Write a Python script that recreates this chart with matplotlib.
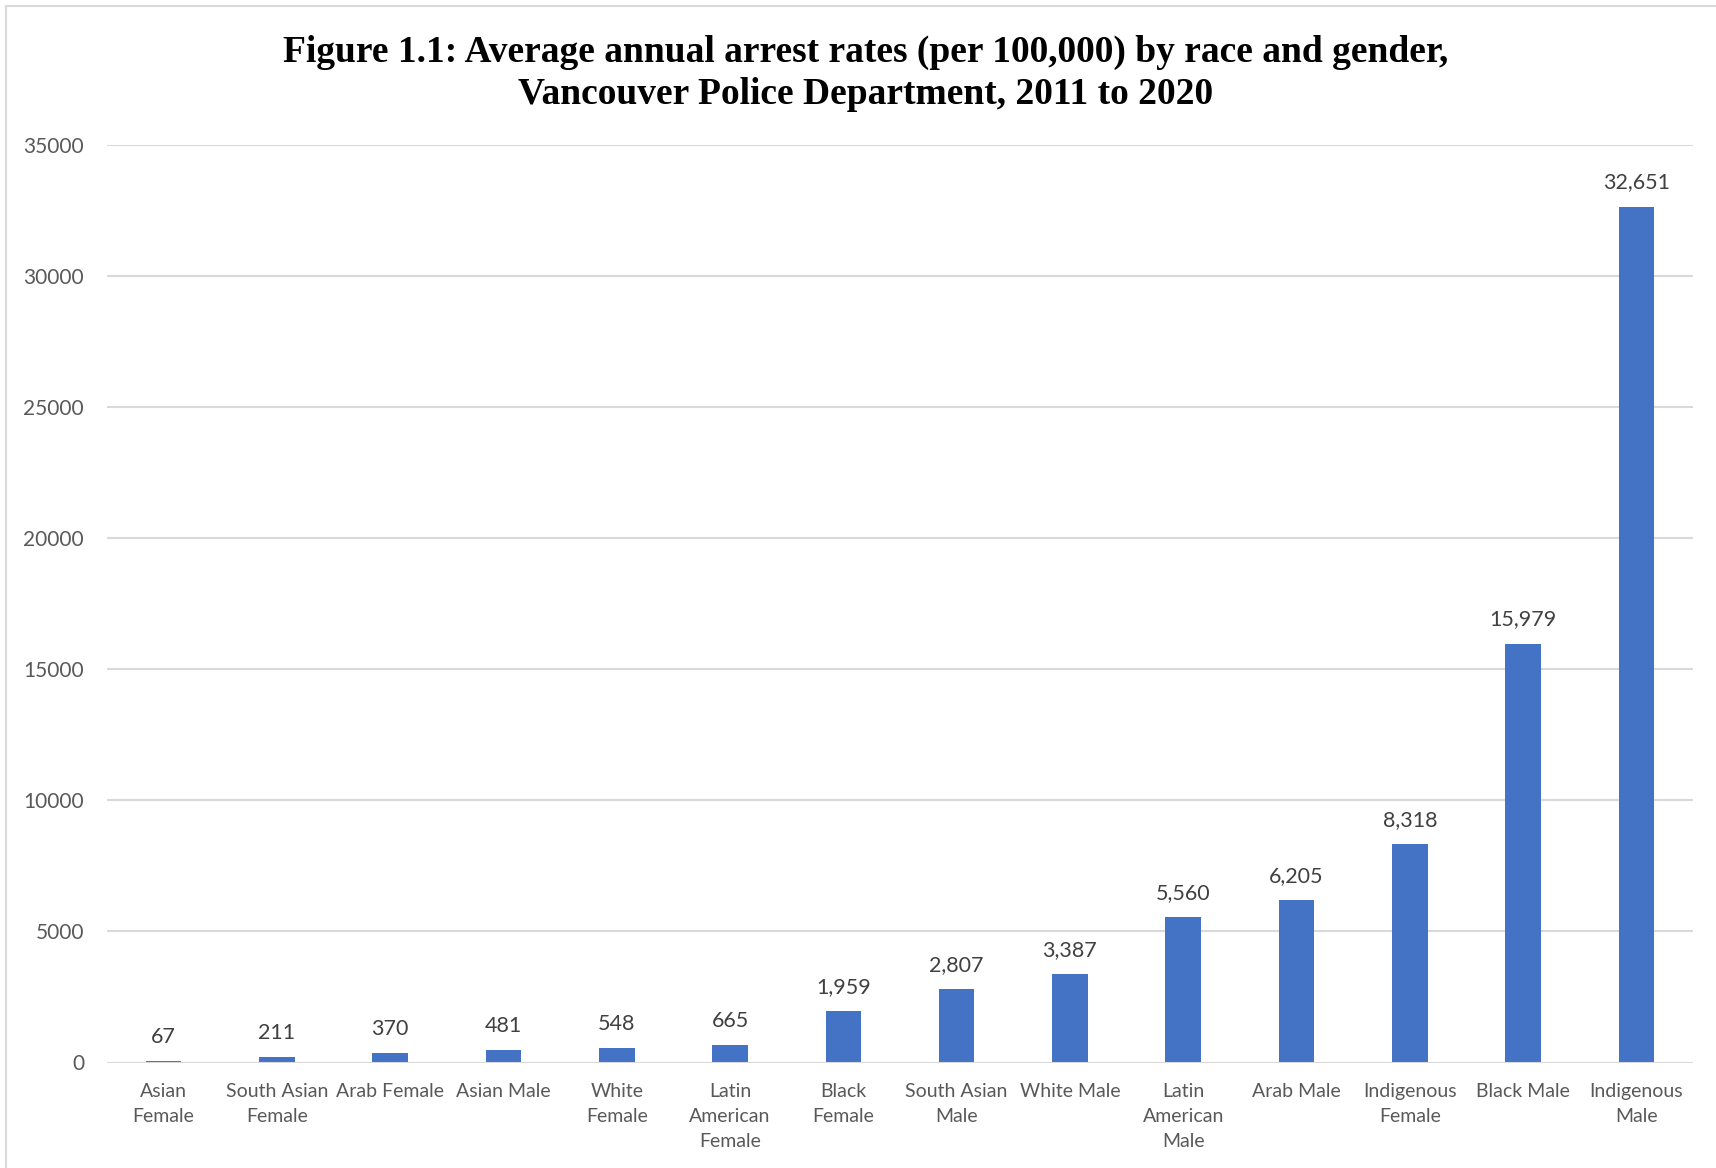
import matplotlib
matplotlib.use("Agg")
import matplotlib.pyplot as plt
from matplotlib.lines import Line2D

categories = ["Asian\nFemale", "South Asian\nFemale", "Arab Female", "Asian Male",
              "White\nFemale", "Latin\nAmerican\nFemale", "Black\nFemale",
              "South Asian\nMale", "White Male", "Latin\nAmerican\nMale",
              "Arab Male", "Indigenous\nFemale", "Black Male", "Indigenous\nMale"]
values = [67, 211, 370, 481, 548, 665, 1959, 2807, 3387, 5560, 6205, 8318, 15979, 32651]
yticks = [0, 5000, 10000, 15000, 20000, 25000, 30000, 35000]

W, H = 1716, 1168
fig = plt.figure(figsize=(W / 100, H / 100), dpi=100)
ax = fig.add_axes([107 / W, 1 - 1062.5 / H, 1586 / W, (1062.5 - 145) / H])

txt_color = "#595959"
grid_color = "#D9D9D9"
font = "Lato"

x = list(range(len(values)))
bars = ax.bar(x, values, width=0.315, color="#4472C4", zorder=3)

ax.set_xlim(-0.5, len(values) - 0.5)
ax.set_ylim(0, 35000)
ax.set_yticks(yticks)
ax.set_yticklabels([str(t) for t in yticks], fontsize=15, color=txt_color, family=font)
ax.set_xticks(x)
ax.set_xticklabels(categories, fontsize=14, color=txt_color, family=font, linespacing=1.55)
ax.tick_params(axis="both", length=0)
ax.tick_params(axis="y", pad=16.5)
ax.tick_params(axis="x", pad=15)
ax.grid(axis="y", color=grid_color, linewidth=1.5, zorder=0)
for s in ax.spines.values():
    s.set_visible(False)
ax.axhline(0, color=grid_color, linewidth=1.5, zorder=4)

for xi, v in zip(x, values):
    ax.annotate(f"{v:,}", (xi, v), xytext=(0, 13), textcoords="offset points",
                ha="center", va="baseline", fontsize=15.5, color="#404040", family=font)

fig.text(866 / W, 1 - 52 / H, "Figure 1.1: Average annual arrest rates (per 100,000) by race and gender,",
         ha="center", va="center", fontsize=27, fontweight="bold", family="Liberation Serif")
fig.text(866 / W, 1 - 94 / H, "Vancouver Police Department, 2011 to 2020",
         ha="center", va="center", fontsize=27, fontweight="bold", family="Liberation Serif")

fig.add_artist(Line2D([6 / W, 1], [1 - 6 / H, 1 - 6 / H], transform=fig.transFigure,
                      color=grid_color, linewidth=1.5))
fig.add_artist(Line2D([6 / W, 6 / W], [0, 1 - 6 / H], transform=fig.transFigure,
                      color=grid_color, linewidth=1.5))

fig.savefig("out.png", dpi=100)
